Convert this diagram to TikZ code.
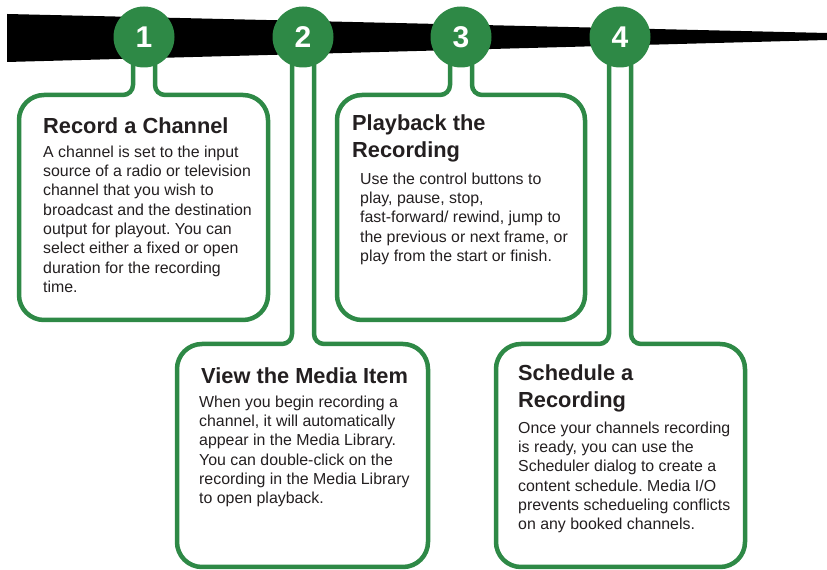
\documentclass[tikz,border=0pt]{standalone}
\usepackage{fontspec}
\setmainfont{Liberation Sans}
\usetikzlibrary{backgrounds}
\definecolor{stepgreen}{RGB}{46,137,70}
\definecolor{inkgray}{RGB}{35,31,32}
\frenchspacing

\begin{document}
\begin{tikzpicture}[x=1pt, y=1pt,
	stepdot/.style={circle, fill=stepgreen, minimum size=61pt, inner sep=0, text=white, font=\bfseries\fontsize{30}{30}\selectfont},
	frame/.style={draw=stepgreen, line width=4.5pt},
	heading/.style={anchor=north west, inner sep=0, align=left, text=inkgray, execute at begin node=\strut, font=\bfseries\fontsize{21.8}{27}\selectfont},
	blurb/.style={anchor=north west, inner sep=0, align=left, text=inkgray, execute at begin node=\strut, font=\fontsize{15.9}{19.3}\selectfont}]
	\useasboundingbox (0,0) rectangle (827,570);
	\foreach \n/\x in {1/144, 2/303, 3/461, 4/620}
	\node[stepdot] (d\n) at (\x,533) {\n};
	\begin{scope}[on background layer]
	\fill[black] (7,556) -- (827,537) -- (827,530) -- (7,508) -- cycle;
	\foreach \n/\x/\l/\r/\t/\b in {1/144/19/268/475/250, 2/303/177/428/226/3, 3/461/337/585/475/250, 4/620/496/745/226/3}
	\draw[frame] ([xshift=-11pt]d\n.center) -- (\x-11,\t+10) arc (0:-90:10) -- (\l+25,\t) arc (90:180:25) -- (\l,\b+25) arc (180:270:25) -- (\r-25,\b) arc (270:360:25) -- (\r,\t-25) arc (0:90:25) -- (\x+21,\t) arc (270:180:10) -- ([xshift=11pt]d\n.center);
	\end{scope}
	\node[heading] (h1) at (43,455.9) {Record a Channel};
	\node[blurb] (b1) at (43,424.5) {A channel is set to the input\\source of a radio or television\\channel that you wish to\\broadcast and the destination\\output for playout. You can\\select either a fixed or open\\duration for the recording\\time.};
	\node[heading] (h2) at (201,205.9) {View the Media Item};
	\node[blurb] (b2) at (199,174.5) {When you begin recording a\\channel, it will automatically\\appear in the Media Library.\\You can double-click on the\\recording in the Media Library\\to open playback.};
	\node[heading] (h3) at (352,455.9) {Playback the\\Recording};
	\node[blurb] (b3) at (360,397.5) {Use the control buttons to\\play, pause, stop,\\fast-forward/ rewind, jump to\\the previous or next frame, or\\play from the start or finish.};
	\node[heading] (h4) at (518,205.9) {Schedule a\\Recording};
	\node[blurb] (b4) at (518,148.5) {Once your channels recording\\is ready, you can use the\\Scheduler dialog to create a\\content schedule. Media I/O\\prevents schedueling conflicts\\on any booked channels.};
\end{tikzpicture}
\end{document}
